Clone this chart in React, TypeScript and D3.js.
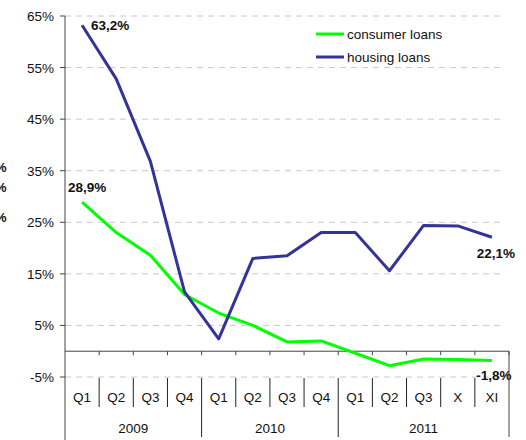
import React, { useEffect, useRef } from "react";
import * as d3 from "d3";

const quarters = ["Q1", "Q2", "Q3", "Q4", "Q1", "Q2", "Q3", "Q4", "Q1", "Q2", "Q3", "X", "XI"];
const years = [
  { label: "2009", from: 0, to: 4 },
  { label: "2010", from: 4, to: 8 },
  { label: "2011", from: 8, to: 13 },
];
const consumerLoans = [28.9, 23.0, 18.6, 11.0, 7.4, 5.0, 1.8, 2.0, -0.4, -2.8, -1.5, -1.6, -1.8];
const housingLoans = [63.2, 52.8, 36.8, 11.5, 2.4, 18.0, 18.5, 23.0, 23.0, 15.6, 24.4, 24.3, 22.1];
const yTicks = [-5, 5, 15, 25, 35, 45, 55, 65];

const GREEN = "#00ff00";
const BLUE = "#333399";
const FONT = "Liberation Sans, Arial, sans-serif";

const App: React.FC = () => {
  const svgRef = useRef<SVGSVGElement | null>(null);

  useEffect(() => {
    if (!svgRef.current) return;
    const svg = d3.select(svgRef.current);
    svg.selectAll("*").remove();

    const left = 65;
    const right = 509;
    const x = d3.scaleBand<number>().domain(d3.range(quarters.length)).range([left, right]);
    const y = d3.scaleLinear().domain([-5, 65]).range([377, 16]);
    const cx = (i: number) => (x(i) ?? 0) + x.bandwidth() / 2;

    // gridlines
    svg
      .append("g")
      .selectAll("line")
      .data(yTicks)
      .enter()
      .append("line")
      .attr("x1", left)
      .attr("x2", 504)
      .attr("y1", (d) => y(d))
      .attr("y2", (d) => y(d))
      .attr("stroke", "#c8c8c8")
      .attr("stroke-dasharray", "6,5");

    // y axis
    const yAxis = svg.append("g").attr("transform", `translate(${left},0)`);
    yAxis
      .append("line")
      .attr("x1", 0)
      .attr("x2", 0)
      .attr("y1", y(65))
      .attr("y2", 440)
      .attr("stroke", "#444");
    yAxis
      .selectAll("line.tick")
      .data(yTicks)
      .enter()
      .append("line")
      .attr("class", "tick")
      .attr("x1", -5)
      .attr("x2", 0)
      .attr("y1", (d) => y(d))
      .attr("y2", (d) => y(d))
      .attr("stroke", "#444");
    yAxis
      .selectAll("text")
      .data(yTicks)
      .enter()
      .append("text")
      .attr("x", -11)
      .attr("y", (d) => y(d) + 5)
      .attr("text-anchor", "end")
      .attr("font-family", FONT)
      .attr("font-size", 13.5)
      .attr("fill", "#111")
      .text((d) => `${d}%`);

    // zero axis line with ticks
    const zeroY = y(0);
    svg
      .append("line")
      .attr("x1", left)
      .attr("x2", right)
      .attr("y1", zeroY)
      .attr("y2", zeroY)
      .attr("stroke", "#444");
    svg
      .append("g")
      .selectAll("line")
      .data(d3.range(1, quarters.length + 1))
      .enter()
      .append("line")
      .attr("x1", (i) => (i < quarters.length ? x(i) ?? 0 : right))
      .attr("x2", (i) => (i < quarters.length ? x(i) ?? 0 : right))
      .attr("y1", zeroY)
      .attr("y2", zeroY + 4)
      .attr("stroke", "#444");

    // category label separators
    const sepTop = 378;
    const yearStarts = new Set(years.map((yr) => yr.from));
    svg
      .append("g")
      .selectAll("line")
      .data(d3.range(1, quarters.length))
      .enter()
      .append("line")
      .attr("x1", (i) => x(i) ?? 0)
      .attr("x2", (i) => x(i) ?? 0)
      .attr("y1", sepTop)
      .attr("y2", (i) => (yearStarts.has(i) ? 437 : 407))
      .attr("stroke", "#222");
    svg
      .append("line")
      .attr("x1", right)
      .attr("x2", right)
      .attr("y1", zeroY)
      .attr("y2", 437)
      .attr("stroke", "#444");

    svg
      .append("g")
      .selectAll("text")
      .data(quarters)
      .enter()
      .append("text")
      .attr("x", (_, i) => cx(i))
      .attr("y", 402)
      .attr("text-anchor", "middle")
      .attr("font-family", FONT)
      .attr("font-size", 13.5)
      .attr("fill", "#111")
      .text((d) => d);

    svg
      .append("g")
      .selectAll("text")
      .data(years)
      .enter()
      .append("text")
      .attr("x", (d) => ((x(d.from) ?? 0) + (d.to < quarters.length ? x(d.to) ?? 0 : right)) / 2)
      .attr("y", 433)
      .attr("text-anchor", "middle")
      .attr("font-family", FONT)
      .attr("font-size", 13.5)
      .attr("fill", "#111")
      .text((d) => d.label);

    // lines
    const line = d3
      .line<number>()
      .x((_, i) => cx(i))
      .y((d) => y(d));

    svg
      .append("path")
      .datum(consumerLoans)
      .attr("d", line)
      .attr("fill", "none")
      .attr("stroke", GREEN)
      .attr("stroke-width", 3)
      .attr("stroke-linejoin", "round");
    svg
      .append("path")
      .datum(housingLoans)
      .attr("d", line)
      .attr("fill", "none")
      .attr("stroke", BLUE)
      .attr("stroke-width", 3)
      .attr("stroke-linejoin", "round");

    // data labels
    const last = quarters.length - 1;
    const labels = [
      { text: "63,2%", x: cx(0) + 9, y: y(housingLoans[0]) + 5, anchor: "start" },
      { text: "28,9%", x: cx(0) + 5, y: y(consumerLoans[0]) - 10, anchor: "middle" },
      { text: "22,1%", x: cx(last) + 4, y: y(housingLoans[last]) + 21, anchor: "middle" },
      { text: "-1,8%", x: cx(last) + 2, y: y(consumerLoans[last]) + 20, anchor: "middle" },
    ];
    svg
      .append("g")
      .selectAll("text")
      .data(labels)
      .enter()
      .append("text")
      .attr("x", (d) => d.x)
      .attr("y", (d) => d.y)
      .attr("text-anchor", (d) => d.anchor)
      .attr("font-family", FONT)
      .attr("font-size", 13.5)
      .attr("font-weight", "bold")
      .attr("fill", "#111")
      .text((d) => d.text);

    // legend
    const legend = svg.append("g").attr("transform", "translate(316,34)");
    [
      { label: "consumer loans", color: GREEN },
      { label: "housing loans", color: BLUE },
    ].forEach((item, i) => {
      legend
        .append("line")
        .attr("x1", 0)
        .attr("x2", 28)
        .attr("y1", i * 23)
        .attr("y2", i * 23)
        .attr("stroke", item.color)
        .attr("stroke-width", 3);
      legend
        .append("text")
        .attr("x", 31)
        .attr("y", i * 23 + 5)
        .attr("font-family", FONT)
        .attr("font-size", 13.5)
        .attr("fill", "#111")
        .text(item.label);
    });

    // clipped fragments at the left edge (cut off in the original as well)
    [172, 192, 222].forEach((ty) => {
      svg
        .append("text")
        .attr("x", -5)
        .attr("y", ty)
        .attr("font-family", FONT)
        .attr("font-size", 13)
        .attr("font-weight", "bold")
        .attr("fill", "#111")
        .text("%");
    });
  }, []);

  return (
    <svg
      ref={svgRef}
      width={526}
      height={440}
      style={{ position: "absolute", left: 0, top: 0, background: "#fff" }}
    />
  );
};

export default App;
